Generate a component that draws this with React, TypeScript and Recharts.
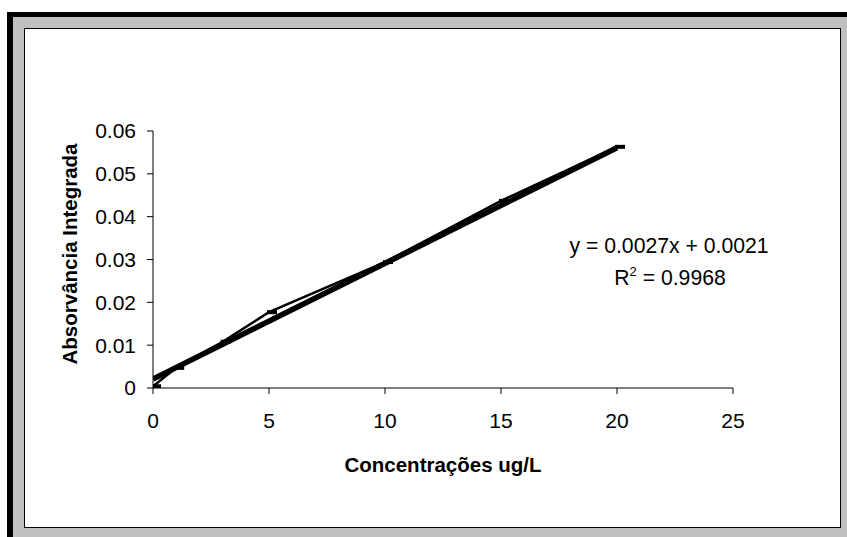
import React from "react";
import { ComposedChart, Line, XAxis, YAxis, Label } from "recharts";

const concentrations = [0, 1, 3, 5, 10, 15, 20];
const absorbances = [0.0004, 0.0047, 0.0108, 0.0177, 0.0294, 0.0437, 0.0563];
const trendX = [0, 20];
const trendY = [0.0021, 0.0561];
const xTicks = [0, 5, 10, 15, 20, 25];
const yTicks = [0, 0.01, 0.02, 0.03, 0.04, 0.05, 0.06];
const equationText = "y = 0.0027x + 0.0021";
const r2Value = "0.9968";
const xTitle = "Concentrações ug/L";
const yTitle = "Absorvância Integrada";

const data = concentrations.map((c, i) => ({ x: c, y: absorbances[i] }));
const trend = trendX.map((c, i) => ({ x: c, fit: trendY[i] }));

const FONT = "'Liberation Sans', Arial, sans-serif";

const DashDot = (props: any) => {
  const { cx, cy } = props;
  if (cx == null || cy == null) return null;
  return <rect x={cx - 2} y={cy - 2} width={10} height={4} fill="#000" />;
};

export default function App() {
  return (
    <div style={{ position: "absolute", left: 0, top: 0, width: 847, height: 537, background: "#fff", fontFamily: FONT }}>
      <div style={{ position: "absolute", left: 7, top: 12, width: 840, height: 525, background: "#000" }} />
      <div style={{ position: "absolute", left: 13, top: 17, width: 834, height: 520, background: "#c0c0c0" }} />
      <div style={{ position: "absolute", left: 24, top: 28, width: 815, height: 498, background: "#fff", border: "1px solid #000" }} />
      <div style={{ position: "absolute", left: 0, top: 0 }}>
        <ComposedChart
          width={847}
          height={537}
          margin={{ top: 131, right: 114, bottom: 0, left: 0 }}
          style={{ fontFamily: FONT }}
        >
          <XAxis
            dataKey="x"
            type="number"
            domain={[0, 25]}
            ticks={xTicks}
            height={149}
            stroke="#000"
            tickSize={6}
            tickMargin={19}
            tick={{ fill: "#000", fontSize: 21, fontFamily: FONT }}
            allowDataOverflow
          >
            <Label
              content={() => (
                <text x={443} y={472} textAnchor="middle" fontSize={20.5} fontWeight="bold" fill="#000" fontFamily={FONT}>
                  {xTitle}
                </text>
              )}
            />
          </XAxis>
          <YAxis
            type="number"
            domain={[0, 0.06]}
            ticks={yTicks}
            width={153}
            stroke="#000"
            tickSize={6}
            tickMargin={11}
            tick={{ fill: "#000", fontSize: 21, fontFamily: FONT }}
            tickFormatter={(v: number) => String(v)}
            allowDataOverflow
          >
            <Label
              content={() => (
                <text x={77} y={254} transform="rotate(-90 77 254)" textAnchor="middle" fontSize={20.5} fontWeight="bold" fill="#000" fontFamily={FONT}>
                  {yTitle}
                </text>
              )}
            />
          </YAxis>
          <Line
            data={data}
            dataKey="y"
            stroke="#000"
            strokeWidth={2.5}
            dot={<DashDot />}
            isAnimationActive={false}
          />
          <Line
            data={trend}
            dataKey="fit"
            stroke="#000"
            strokeWidth={5.5}
            dot={false}
            isAnimationActive={false}
          />
        </ComposedChart>
      </div>
      <svg style={{ position: "absolute", left: 0, top: 0 }} width={847} height={537}>
        <text x={669} y={253} textAnchor="middle" fontSize={21.2} fill="#000" fontFamily={FONT}>
          {equationText}
        </text>
        <text x={670} y={285} textAnchor="middle" fontSize={21.2} fill="#000" fontFamily={FONT}>
          R<tspan dy={-9} fontSize={13}>2</tspan>
          <tspan dy={9}>{" = " + r2Value}</tspan>
        </text>
      </svg>
    </div>
  );
}
